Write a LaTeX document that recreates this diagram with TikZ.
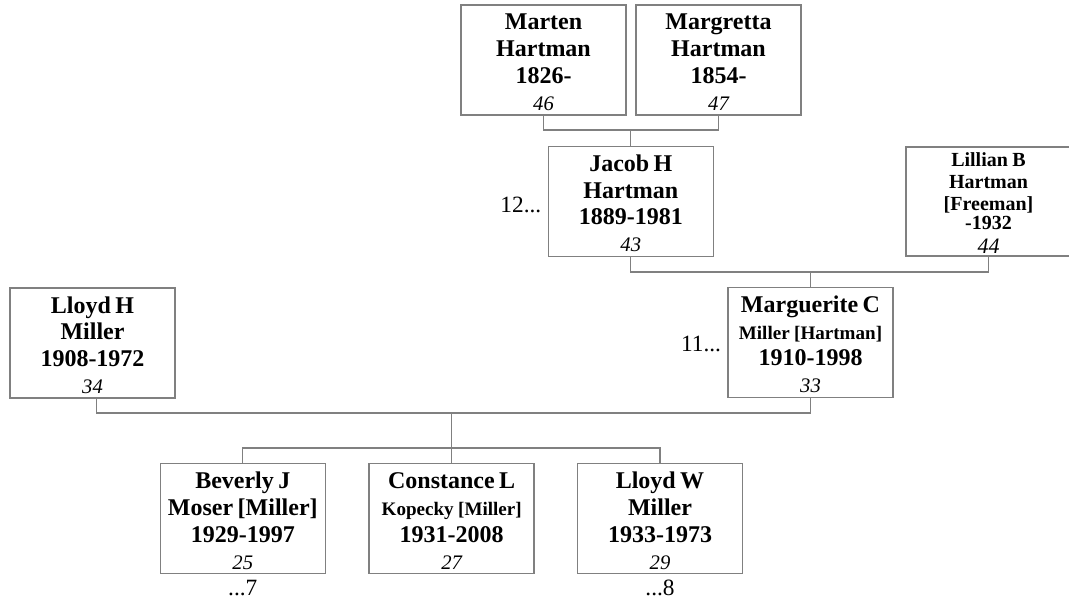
\documentclass[tikz,border=0pt]{standalone}
\usepackage{fontspec}
\setmainfont{Liberation Serif}
\definecolor{boxgray}{RGB}{128,128,128}
\definecolor{linegray}{RGB}{128,128,128}
\newcommand\fnm{\fontsize{18pt}{20pt}\selectfont\bfseries}
\newcommand\fsm{\fontsize{14.3pt}{20pt}\selectfont\bfseries}
\newcommand\fnum{\fontsize{15.5pt}{20.3pt}\selectfont\mdseries\itshape}
\newcommand\fmore{\fontsize{17.5pt}{20pt}\selectfont\mdseries\upshape}
\begin{document}
\begin{tikzpicture}[x=0.75pt,y=-0.75pt,
  person/.style={draw=boxgray, line width=1.1pt, inner sep=0pt,
    text width=123.75pt, align=center, text height=18.75pt, text depth=63.75pt},
  conn/.style={draw=linegray, line width=1pt},
  more/.style={inner sep=0pt, font=\fmore}]
\clip (0,0) rectangle (1069,602);
\useasboundingbox (0,0) rectangle (1069,602);

% generation 1
\node[person] (marten) at (543.5,60) {\fnm Marten\par Hartman\par 1826-\par\fnum 46\par};
\node[person] (margretta) at (718.5,60) {\fnm Margretta\par Hartman\par 1854-\par\fnum 47\par};

% generation 2
\node[person] (jacob) at (630.8,201.5) {\fnm Jacob H\par Hartman\par 1889-1981\par\fnum 43\par};
\node[person, text height=15pt, text depth=67pt] (lillian) at (988.5,201.5)
  {\fontsize{15pt}{16.3pt}\selectfont\bfseries Lillian B\par Hartman\par [Freeman]\par
   \fontsize{15pt}{14.6pt}\selectfont -1932\par
   \fontsize{16.5pt}{17.5pt}\selectfont\mdseries\itshape 44\par};

% generation 3
\node[person] (lloydh) at (92.5,343) {\fnm Lloyd H\par Miller\par 1908-1972\par\fnum 34\par};
\node[person] (margc) at (810.5,342.5) {\fnm Marguerite C\par\fsm Miller [Hartman]\par\fnm 1910-1998\par\fnum 33\par};

% generation 4
\node[person] (beverly) at (242.8,518.7) {\fnm Beverly J\par Moser [Miller]\par 1929-1997\par\fnum 25\par};
\node[person] (constance) at (451.7,518.7) {\fnm Constance L\par\fsm Kopecky [Miller]\par\fnm 1931-2008\par\fnum 27\par};
\node[person] (lloydw) at (660,518.7) {\fnm Lloyd W\par Miller\par 1933-1973\par\fnum 29\par};

% continuation marks
\node[more, anchor=east] (jacobup) at ([xshift=-4.5pt,yshift=-2.6pt]jacob.west) {12...};
\node[more, anchor=east] (margcup) at ([xshift=-4.5pt,yshift=-1.2pt]margc.west) {11...};
\node[more, anchor=base] (bevdown) at ([yshift=-16pt]beverly.south) {...7};
\node[more, anchor=base] (lloydwdown) at ([yshift=-16pt]lloydw.south) {...8};

% connectors
\coordinate (hp) at (630.8,130);
\coordinate (hj) at (810.5,272);
\coordinate (hm) at (451.7,413);
\coordinate (hc) at (451.7,448);
\draw[conn] (marten.south) |- (hp) -| (margretta.south);
\draw[conn] (hp) -- (jacob.north);
\draw[conn] (jacob.south) |- (hj) -| (lillian.south);
\draw[conn] (hj) -- (margc.north);
\draw[conn] ([xshift=3pt]lloydh.south) |- (hm) -| (margc.south);
\draw[conn] (hm) -- (constance.north);
\draw[conn] (beverly.north) |- (hc) -| (lloydw.north);
\end{tikzpicture}
\end{document}
